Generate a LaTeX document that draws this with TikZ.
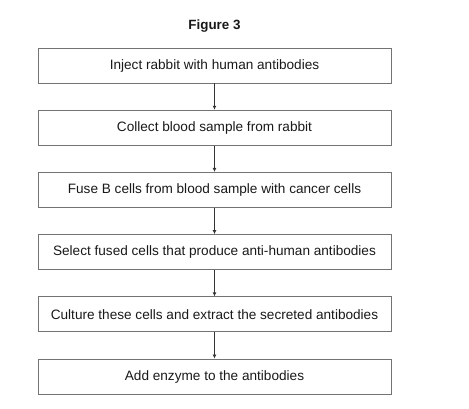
\documentclass[tikz,border=0pt]{standalone}
\usepackage{fontspec}
\setmainfont{Liberation Sans}
\usetikzlibrary{arrows.meta}

\begin{document}
\begin{tikzpicture}
  [x=1pt,y=-1pt,
   every node/.style={font=\fontsize{13.6}{16}\selectfont,text=black!90},
   stepbox/.style={draw=black!55,line width=0.9pt,minimum width=353pt,
     minimum height=35pt,inner sep=0pt}]
  \useasboundingbox (0,0) rectangle (469,408);

  \node[font=\fontsize{13.4}{16}\selectfont\bfseries] (title) at (214.5,26) {Figure 3};

  \node[stepbox] (s1) at (214.5,65.5)  {Inject rabbit with human antibodies};
  \node[stepbox] (s2) at (214.5,127.7) {Collect blood sample from rabbit};
  \node[stepbox] (s3) at (214.5,189.9) {Fuse B cells from blood sample with cancer cells};
  \node[stepbox] (s4) at (214.5,252.1) {Select fused cells that produce anti-human antibodies};
  \node[stepbox] (s5) at (214.5,314.3) {Culture these cells and extract the secreted antibodies};
  \node[stepbox] (s6) at (214.5,376.5) {Add enzyme to the antibodies};

  \foreach \from/\to in {s1/s2,s2/s3,s3/s4,s4/s5,s5/s6}
    \draw[black!80,line width=0.8pt,-{Latex[length=4pt,width=4pt]}] (\from) -- (\to);

\end{tikzpicture}
\end{document}
